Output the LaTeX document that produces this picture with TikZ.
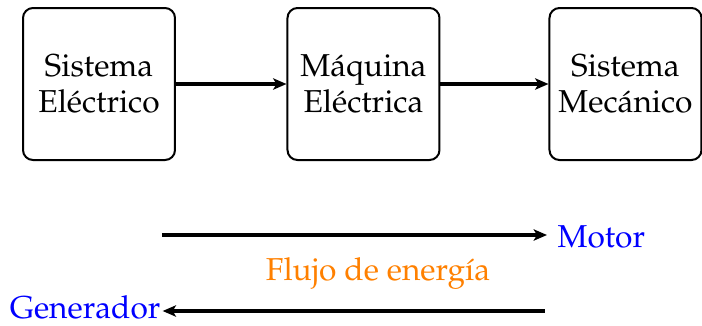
\documentclass[tikz,border=0pt]{standalone}
\usepackage[T1]{fontenc}
\usepackage{mathpazo}
\usetikzlibrary{arrows.meta}
\begin{document}
\begin{tikzpicture}[x=0.3pt,y=-0.3pt,
  blockbox/.style={draw,line width=0.6pt,rounded corners=3pt,minimum width=45.6pt,minimum height=45.6pt,align=center,inner sep=0pt,font=\fontsize{9.5pt}{10.8pt}\selectfont},
  flowarrow/.style={line width=1.1pt,-{Stealth[length=4pt,width=3.4pt,inset=1pt]}},
  lbl/.style={inner sep=0pt,font=\fontsize{9.5pt}{10.8pt}\selectfont}]
\useasboundingbox (0,0) rectangle (702,325);
\node[blockbox] (se) at (99,84) {Sistema\\El\'ectrico};
\node[blockbox] (me) at (363.5,84) {M\'aquina\\El\'ectrica};
\node[blockbox] (sm) at (625.5,84) {Sistema\\Mec\'anico};
\draw[flowarrow] (se) -- (me);
\draw[flowarrow] (me) -- (sm);
\node[lbl,anchor=base west,text=blue] (motor) at (557,247) {Motor};
\coordinate (m1) at (162,235);
\draw[flowarrow,shorten >=3pt] (m1) -- (m1 -| motor.west);
\node[lbl,anchor=base,text=orange] (flujo) at (378,280) {Flujo de energ\'{\i}a};
\node[lbl,anchor=base east,text=blue] (gen) at (161,318) {Generador};
\coordinate (g1) at (545,311);
\draw[flowarrow,shorten >=0.5pt] (g1) -- (g1 -| gen.east);
\end{tikzpicture}
\end{document}
